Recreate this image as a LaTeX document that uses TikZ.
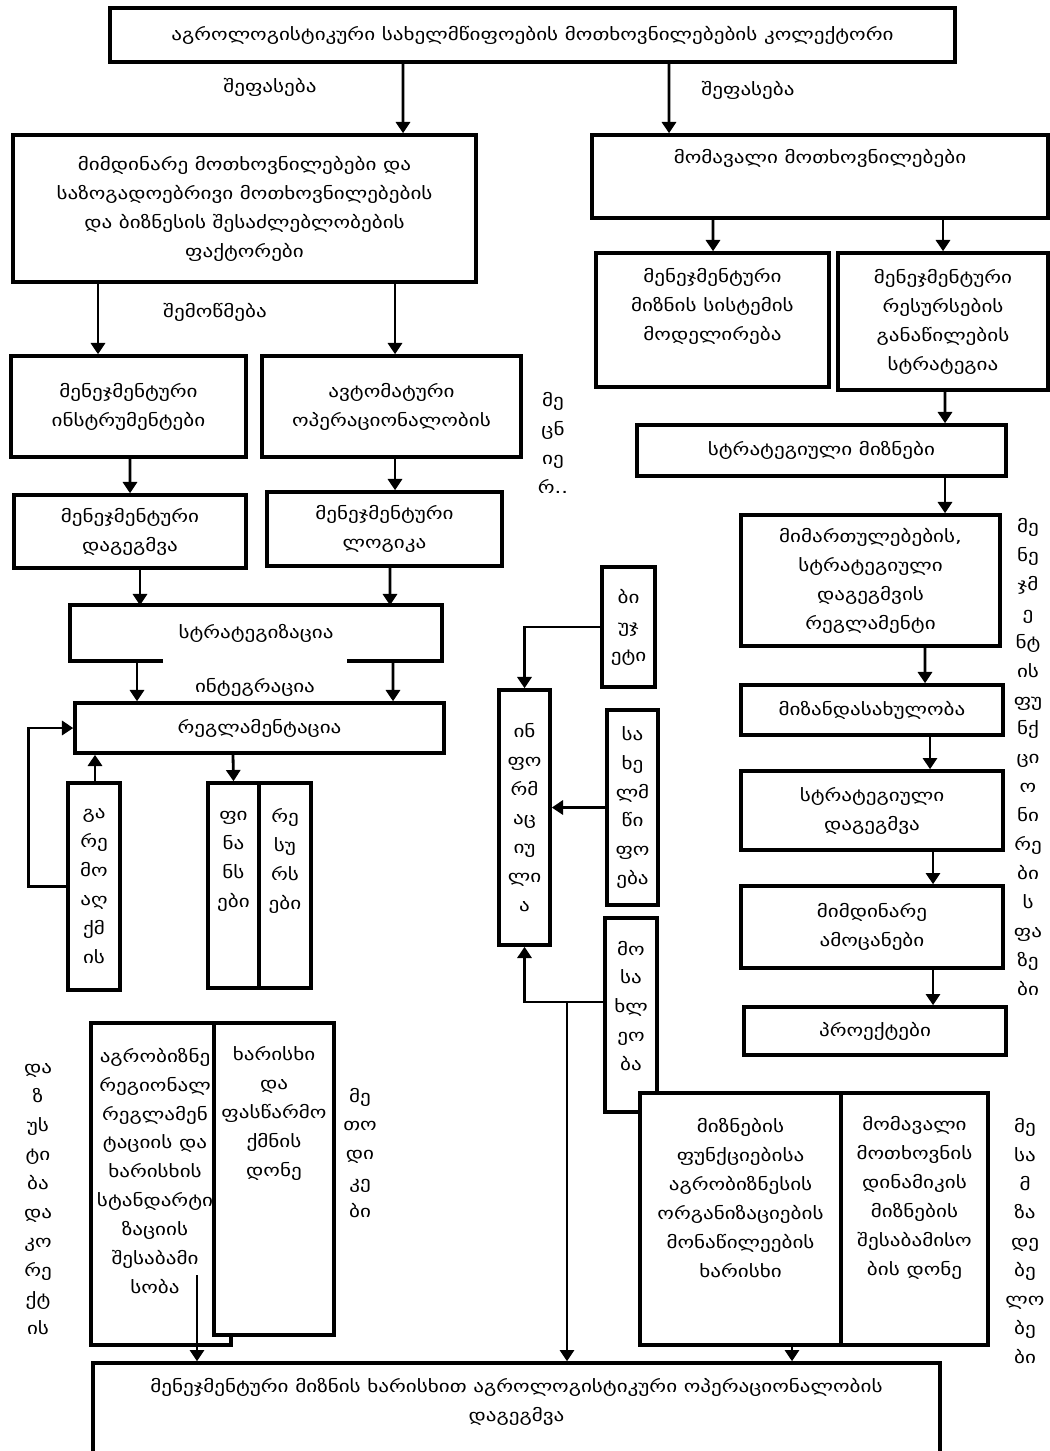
\documentclass[tikz,border=0pt]{standalone}
\usepackage{fontspec}
\setmainfont{DejaVu Sans}[FakeStretch=1.25]
\usepackage{tikz}
\usetikzlibrary{arrows.meta}
\newlength\pxu
\setlength\pxu{0.025cm}
\newcommand\gtxt{\fontsize{12}{20.6}\selectfont}

\begin{document}
\begin{tikzpicture}[x=0.025cm, y=-0.025cm,
    box/.style={draw, line width=2.5pt, fill=white, inner sep=0pt, align=center, font=\gtxt},
    sz/.style 2 args={minimum width=#1*\pxu, minimum height=#2*\pxu},
    txt/.style={align=center, inner sep=0pt, font=\gtxt},
    arr/.style={-{Triangle[width=10pt,length=8pt]}, line width=2pt}]

    \useasboundingbox (0,0) rectangle (1050,1451);

    % top
    \node[box, sz={845}{54}] (top) at (532.5,35) {აგროლოგისტიკური სახელმწიფოების მოთხოვნილებების კოლექტორი};
    \node[txt] (lab1) at (270,87) {შეფასება};
    \node[txt] (lab2) at (748,90) {შეფასება};

    % right branch
    \node[box, sz={456}{83}] (r1) at (820,176.5) {};
    \node[txt] (r1t) at (820,158) {მომავალი მოთხოვნილებები};
    \draw[arr] ([xshift=136.5*\pxu]top.south) -- ([xshift=-151*\pxu]r1.north);
    \node[box, sz={233}{134}] (r2a) at (712.5,320) {};
    \node[txt] (r2at) at (712.5,306) {მენეჯმენტური\\მიზნის სისტემის\\მოდელირება};
    \node[box, sz={210}{137}] (r2b) at (943,321.5) {მენეჯმენტური\\რესურსების\\განაწილების\\სტრატეგია};
    \draw[arr] ([xshift=-107*\pxu]r1.south) -- ([xshift=0.5*\pxu]r2a.north);
    \draw[arr] ([xshift=123*\pxu]r1.south) -- (r2b.north);
    \node[box, sz={369}{51}] (r3) at (821.5,450.5) {სტრატეგიული მიზნები};
    \draw[arr] ([xshift=2*\pxu]r2b.south) -- ([xshift=123.5*\pxu]r3.north);
    \node[box, sz={259}{131}] (r4) at (870.5,580.5) {მიმართულებების,\\სტრატეგიული\\დაგეგმვის\\რეგლამენტი};
    \draw[arr] ([xshift=123.5*\pxu]r3.south) -- ([xshift=74.5*\pxu]r4.north);
    \node[box, sz={262}{50}] (r5) at (872,710) {მიზანდასახულობა};
    \draw[arr] ([xshift=54.5*\pxu]r4.south) -- ([xshift=53*\pxu]r5.north);
    \node[box, sz={262}{79}] (r6) at (872,810.5) {სტრატეგიული\\დაგეგმვა};
    \draw[arr] ([xshift=58*\pxu]r5.south) -- ([xshift=58*\pxu]r6.north);
    \node[box, sz={262}{82}] (r7) at (872,927) {მიმდინარე\\ამოცანები};
    \draw[arr] ([xshift=61*\pxu]r6.south) -- ([xshift=61*\pxu]r7.north);
    \node[box, sz={262}{48}] (r8) at (875,1031) {პროექტები};
    \draw[arr] ([xshift=61*\pxu]r7.south) -- ([xshift=58*\pxu]r8.north);
    \node[txt] (rcol) at (1028,757) {მე\\ნე\\ჯმ\\ე\\ნტ\\ის\\ფუ\\ნქ\\ცი\\ო\\ნი\\რე\\ბი\\ს\\ფა\\ზე\\ბი};

    % left branch
    \node[box, sz={463}{147}] (l1) at (244.5,208.5) {მიმდინარე მოთხოვნილებები და\\საზოგადოებრივი მოთხოვნილებების\\და ბიზნესის შესაძლებლობების\\ფაქტორები};
    \draw[arr] ([xshift=-129.5*\pxu]top.south) -- ([xshift=158.5*\pxu]l1.north);
    \node[txt] (lab3) at (215,312) {შემოწმება};
    \node[box, sz={235}{101}] (l2a) at (128.5,406.5) {მენეჯმენტური\\ინსტრუმენტები};
    \node[box, sz={259}{101}] (l2b) at (391.5,406.5) {ავტომატური\\ოპერაციონალობის};
    \draw[arr] ([xshift=-146.5*\pxu]l1.south) -- ([xshift=-30.5*\pxu]l2a.north);
    \draw[arr] ([xshift=150.5*\pxu]l1.south) -- ([xshift=3.5*\pxu]l2b.north);
    \node[txt] (lcol1) at (553,443) {მე\\ცნ\\იე\\რ..};
    \node[box, sz={232}{73}] (l3a) at (130,531.5) {მენეჯმენტური\\დაგეგმვა};
    \node[box, sz={235}{74}] (l3b) at (384.5,529) {მენეჯმენტური\\ლოგიკა};
    \draw[arr] ([xshift=1.5*\pxu]l2a.south) -- (l3a.north);
    \draw[arr] ([xshift=3.5*\pxu]l2b.south) -- ([xshift=10.5*\pxu]l3b.north);
    \node[box, draw=none, sz={368}{52}] (l4) at (256,633) {სტრატეგიზაცია};
    \draw[line width=2.5pt] ([xshift=93*\pxu]l4.south west) -- (l4.south west) -- (l4.north west)
        -- (l4.north east) -- (l4.south east) -- ([xshift=-95*\pxu]l4.south east);
    \draw[arr] ([xshift=10*\pxu]l3a.south) -- ([xshift=-116*\pxu]l4.north);
    \draw[arr] ([xshift=5.5*\pxu]l3b.south) -- ([xshift=134*\pxu]l4.north);
    \node[txt] (lab4) at (255,687) {ინტეგრაცია};
    \node[box, sz={369}{50}] (l5) at (259.5,728) {რეგლამენტაცია};
    \draw[arr] ([xshift=-119*\pxu]l4.south) -- ([xshift=-122.5*\pxu]l5.north);
    \draw[arr] ([xshift=137*\pxu]l4.south) -- ([xshift=133.5*\pxu]l5.north);
    \node[box, sz={52}{207}] (g) at (94,886.5) {გა\\რე\\მო\\აღ\\ქმ\\ის};
    \draw[arr] ([xshift=1*\pxu]g.north) -- ([xshift=-164.5*\pxu]l5.south);
    \draw[arr] (g.west) -- ++(-38,0) |- (l5.west);
    \node[box, sz={51}{205}] (p1) at (233.5,885.5) {};
    \node[box, sz={52}{205}] (p2) at (285,885.5) {};
    \node[txt] (p1t) at (233.5,861) {ფი\\ნა\\ნს\\ები};
    \node[txt] (p2t) at (285,861) {რე\\სუ\\რს\\ები};
    \draw[arr] ([xshift=-26.5*\pxu]l5.south) -- (p1.north);

    % middle
    \node[box, sz={51}{255}] (m) at (524.5,817.5) {ინ\\ფო\\რმ\\აც\\იუ\\ლი\\ა};
    \node[box, sz={53}{120}] (t1) at (628.5,627) {ბი\\უჯ\\ეტი};
    \node[box, sz={51}{195}] (t2) at (632.5,807.5) {სა\\ხე\\ლმ\\წი\\ფო\\ება};
    \node[box, sz={52}{194}] (t3) at (631,1015) {};
    \node[txt] (t3t) at (631,1006) {მო\\სა\\ხლ\\ეო\\ბა};
    \draw[arr] (t1.west) -| (m.north);
    \draw[arr] (t2.west) -- (t2.west -| m.east);
    \draw[arr] ([yshift=13*\pxu]t3.west) -| (m.south);

    % lower right
    \node[box, sz={201}{252}] (b1a) at (740.5,1219) {};
    \node[box, sz={147}{252}] (b1b) at (914.5,1219) {};
    \node[txt] (b1at) at (740.5,1198) {მიზნების\\ფუნქციებისა\\აგრობიზნესის\\ორგანიზაციების\\მონაწილეების\\ხარისხი};
    \node[txt] (b1bt) at (914.5,1198) {მომავალი\\მოთხოვნის\\დინამიკის\\მიზნების\\შესაბამისო\\ბის დონე};
    \node[txt] (rcol2) at (1025,1241) {მე\\სა\\მ\\ზა\\დე\\ბე\\ლო\\ბე\\ბი};

    % lower left
    \node[box, sz={140}{322}] (bl1) at (161,1184) {};
    \node[txt] (bl1t) at (155,1171) {აგრობიზნე\\რეგიონალ\\რეგლამენ\\ტაციის და\\ხარისხის\\სტანდარტი\\ზაციის\\შესაბამი\\სობა};
    \node[box, sz={120}{312}] (bl2) at (274,1179) {};
    \node[txt] (bl2t) at (274,1113.5) {ხარისხი\\და\\ფასწარმო\\ქმნის\\დონე};
    \node[txt] (lcol3) at (38,1199) {და\\ზ\\უს\\ტი\\ბა\\და\\კო\\რე\\ქტ\\ის};
    \node[txt] (lcol4) at (360,1153) {მე\\თო\\დი\\კე\\ბი};

    % bottom
    \node[box, sz={847}{107}] (bot) at (516.5,1416.5) {};
    \node[txt] (bott) at (516.5,1402) {მენეჯმენტური მიზნის ხარისხით აგროლოგისტიკური ოპერაციონალობის\\დაგეგმვა};
    \coordinate (bla) at (197,1275);
    \draw[arr] (bla) -- (bla |- bot.north);
    \coordinate (jn) at (567,1002);
    \draw[arr] (jn) -- (jn |- bot.north);
    \draw[arr] ([xshift=51.5*\pxu]b1a.south) -- ([xshift=275.5*\pxu]bot.north);
\end{tikzpicture}
\end{document}
